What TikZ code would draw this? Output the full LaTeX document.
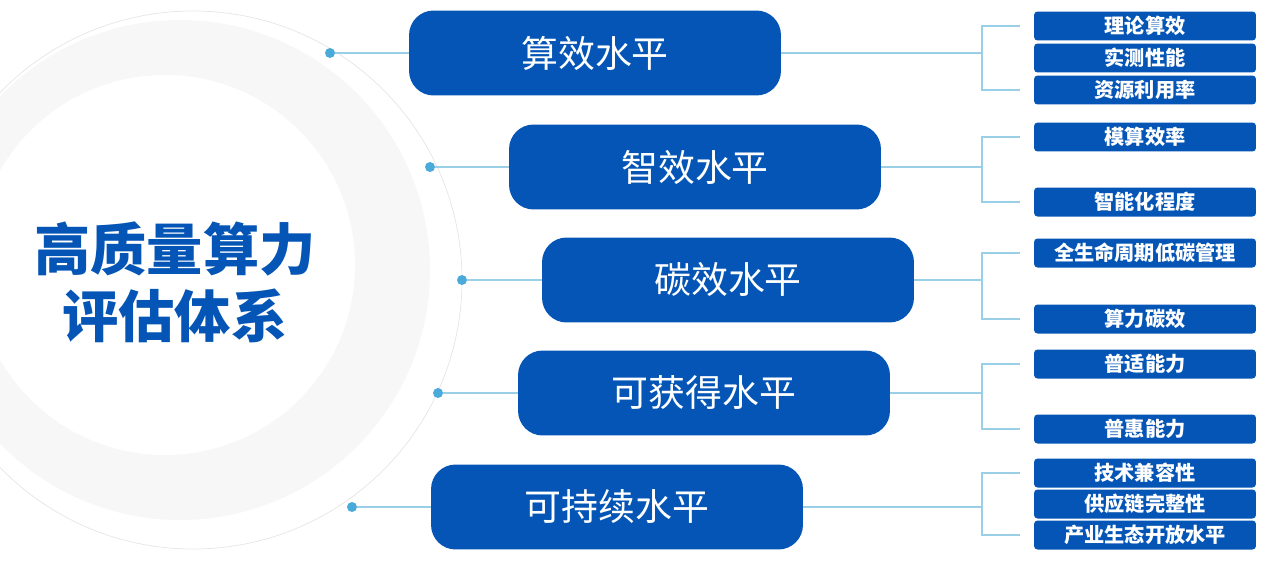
\documentclass[tikz,border=0pt]{standalone}
\usepackage{fontspec}
\setmainfont{Noto Sans CJK SC}
\definecolor{mainblue}{HTML}{0455B5}
\definecolor{dotblue}{HTML}{4AABDB}
\definecolor{linkblue}{HTML}{9ACFE8}
\begin{document}
\begin{tikzpicture}[x=0.02cm,y=-0.02cm,
    level/.style={rectangle,rounded corners=14pt,fill=mainblue,text=white,minimum width=7.44cm,minimum height=1.7cm,font=\fontsize{21}{24}\selectfont},
    item/.style={rectangle,rounded corners=2pt,fill=mainblue,text=white,minimum width=4.44cm,minimum height=0.58cm,inner sep=0pt,font=\bfseries\fontsize{11.5}{13}\selectfont},
    dot/.style={circle,fill=dotblue,inner sep=0pt,minimum size=0.2cm},
    link/.style={linkblue,line width=0.6pt}]
    \useasboundingbox (0,0) rectangle (1267,568);
    % background rings
    \fill[gray!6] (180,270) circle (250);
    \draw[gray!20,line width=0.4pt] (193,280) circle (269);
    \fill[white] (165,265) circle (190);
    \node[text=mainblue,font=\bfseries\fontsize{32}{38}\selectfont,align=center] (title) at (175,282) {高质量算力\\评估体系};
    % levels
    \foreach \n/\x/\y/\lab in {1/595/53/算效水平,2/695/167/智效水平,3/728/280/碳效水平,4/704/393/可获得水平,5/617/507/可持续水平} {
      \node[level] (L\n) at (\x,\y) {\lab};
    }
    \node[dot] (D1) at (330,53) {};
    \node[dot] (D2) at (430,167) {};
    \node[dot] (D3) at (462,280) {};
    \node[dot] (D4) at (438,393) {};
    \node[dot] (D5) at (352,507) {};
    \foreach \n in {1,...,5} {
      \draw[link] (D\n) -- (L\n.west);
    }
    % items
    \foreach \id/\y/\lab in {a/26/理论算效,b/58/实测性能,c/90/资源利用率,d/137/模算效率,e/202/智能化程度,f/253/全生命周期低碳管理,g/319/算力碳效,h/364/普适能力,i/429/普惠能力,j/473/技术兼容性,k/504/供应链完整性,l/535/产业生态开放水平} {
      \node[item] (\id) at (1145,\y) {\lab};
    }
    % brackets
    \foreach \n/\p/\q in {1/a/c,2/d/e,3/f/g,4/h/i,5/j/l} {
      \coordinate (B\n) at (982,0 |- L\n);
      \draw[link] (L\n.east) -- (B\n);
      \draw[link] ([xshift=-0.28cm]\p.west) -| (B\n) |- ([xshift=-0.28cm]\q.west);
    }
    \draw[link] ([xshift=-0.28cm]b.west) -- ++(0,0);
\end{tikzpicture}
\end{document}
